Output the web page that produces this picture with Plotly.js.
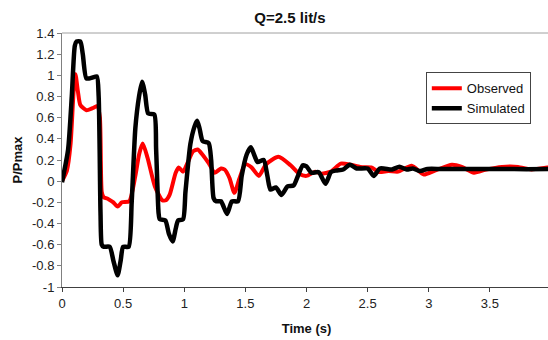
<!DOCTYPE html>
<html>
<head>
<meta charset="utf-8">
<script src="https://cdn.plot.ly/plotly-3.0.1.min.js"></script>
<style>
html,body{margin:0;padding:0;overflow:hidden;background:#fff;}
#chart{width:553px;height:340px;}
</style>
</head>
<body>
<div id="chart"></div>
<script>
const chartTitle = "Q=2.5 lit/s";
const xTitle = "Time (s)";
const yTitle = "P/Pmax";
const observedName = "Observed";
const simulatedName = "Simulated";

const observedT = [0,0.04,0.07,0.095,0.11,0.13,0.15,0.2,0.25,0.29,0.31,0.325,0.34,0.38,0.42,0.455,0.49,0.55,0.6,0.63,0.66,0.7,0.76,0.82,0.85,0.88,0.93,0.955,0.99,1.03,1.07,1.11,1.15,1.2,1.25,1.3,1.33,1.37,1.41,1.45,1.5,1.55,1.61,1.67,1.77,1.87,1.94,2.0,2.07,2.12,2.2,2.28,2.36,2.44,2.53,2.59,2.67,2.75,2.86,2.96,3.05,3.19,3.27,3.37,3.47,3.6,3.73,3.84,3.97,4.0];
const observedV = [0,0.1,0.35,0.85,1.01,0.85,0.72,0.67,0.69,0.71,0.6,-0.1,-0.15,-0.17,-0.2,-0.24,-0.2,-0.19,0.05,0.25,0.355,0.22,-0.05,-0.18,-0.18,-0.13,0.08,0.13,0.09,0.18,0.28,0.30,0.25,0.17,0.08,0.12,0.11,0.03,-0.11,0.02,0.16,0.13,0.05,0.16,0.23,0.15,0.07,0.05,0.09,0.07,0.09,0.165,0.155,0.133,0.13,0.086,0.095,0.09,0.145,0.063,0.1,0.155,0.135,0.08,0.11,0.135,0.135,0.11,0.13,0.13];

const simulatedT = [0,0.05,0.08,0.105,0.12,0.15,0.17,0.2,0.25,0.285,0.3,0.315,0.325,0.34,0.39,0.42,0.455,0.48,0.5,0.545,0.57,0.6,0.63,0.655,0.68,0.705,0.755,0.77,0.79,0.8,0.845,0.875,0.905,0.93,0.95,0.99,1.01,1.05,1.085,1.105,1.125,1.15,1.2,1.22,1.24,1.26,1.3,1.35,1.39,1.44,1.47,1.51,1.545,1.575,1.6,1.65,1.68,1.705,1.75,1.795,1.845,1.895,1.93,1.97,2.0,2.04,2.1,2.155,2.2,2.24,2.3,2.355,2.41,2.5,2.55,2.6,2.7,2.76,2.82,2.87,2.93,2.99,3.1,3.3,3.6,3.8,4.0];
const simulatedV = [-0.01,0.3,0.8,1.28,1.32,1.32,1.2,0.97,0.98,0.99,0.8,-0.3,-0.6,-0.62,-0.62,-0.75,-0.89,-0.75,-0.62,-0.62,-0.2,0.5,0.8,0.94,0.82,0.64,0.63,0.3,-0.3,-0.36,-0.37,-0.5,-0.57,-0.45,-0.37,-0.36,-0.1,0.35,0.52,0.57,0.5,0.38,0.36,0.2,-0.16,-0.19,-0.19,-0.31,-0.19,-0.19,0.05,0.25,0.32,0.24,0.18,0.2,0.05,-0.08,-0.06,-0.13,-0.05,-0.04,0.05,0.15,0.14,0.08,0.085,-0.025,0.085,0.1,0.11,0.155,0.12,0.12,0.05,0.12,0.11,0.137,0.11,0.12,0.095,0.115,0.115,0.115,0.115,0.113,0.115];

const xTicks = [0,0.5,1,1.5,2,2.5,3,3.5,4];
const yTicks = [-1,-0.8,-0.6,-0.4,-0.2,0,0.2,0.4,0.6,0.8,1,1.2,1.4];

const FONT = "Liberation Sans, Arial, sans-serif";

const traces = [
  {x: observedT, y: observedV, name: observedName, type: "scatter", mode: "lines",
   line: {color: "#ff0000", width: 4, shape: "spline", smoothing: 0.6}},
  {x: simulatedT, y: simulatedV, name: simulatedName, type: "scatter", mode: "lines",
   line: {color: "#000000", width: 4.5, shape: "spline", smoothing: 0.6}}
];

const layout = {
  width: 553, height: 340,
  margin: {l: 62, r: 2, t: 33, b: 53},
  paper_bgcolor: "#fff", plot_bgcolor: "#fff",
  font: {family: FONT, size: 13, color: "#222"},
  title: {text: chartTitle, font: {family: FONT, size: 15, color: "#111", weight: "bold"},
          x: 290/553, xref: "container", xanchor: "center", y: 1 - 18/340, yref: "container", yanchor: "middle"},
  showlegend: true,
  legend: {x: 0.744, y: 0.845, xanchor: "left", yanchor: "top", bgcolor: "#fff",
           bordercolor: "#444", borderwidth: 1, font: {family: FONT, size: 13, color: "#111"},
           tracegroupgap: 0},
  xaxis: {range: [0, 4], tickvals: xTicks, ticktext: xTicks.map(String),
          showgrid: false, zeroline: false, showline: true, linecolor: "#404040", linewidth: 1,
          ticks: "outside", ticklen: 4, tickcolor: "#404040",
          tickfont: {family: FONT, size: 13, color: "#222"},
          title: {text: xTitle, font: {family: FONT, size: 13, color: "#111", weight: "bold"}, standoff: 14}},
  yaxis: {range: [-1, 1.4], tickvals: yTicks, ticktext: yTicks.map(String),
          showgrid: false, zeroline: false, showline: true, linecolor: "#808080", linewidth: 1,
          ticks: "outside", ticklen: 4, tickcolor: "#808080",
          tickfont: {family: FONT, size: 13, color: "#222"},
          title: {text: yTitle, font: {family: FONT, size: 13, color: "#111", weight: "bold"}, standoff: 6}},
  shapes: [{type: "line", xref: "paper", yref: "paper", x0: 0, x1: 1, y0: 1, y1: 1,
            line: {color: "#a0a0a0", width: 1}}]
};

Plotly.newPlot("chart", traces, layout, {displayModeBar: false, staticPlot: true});
</script>
</body>
</html>
